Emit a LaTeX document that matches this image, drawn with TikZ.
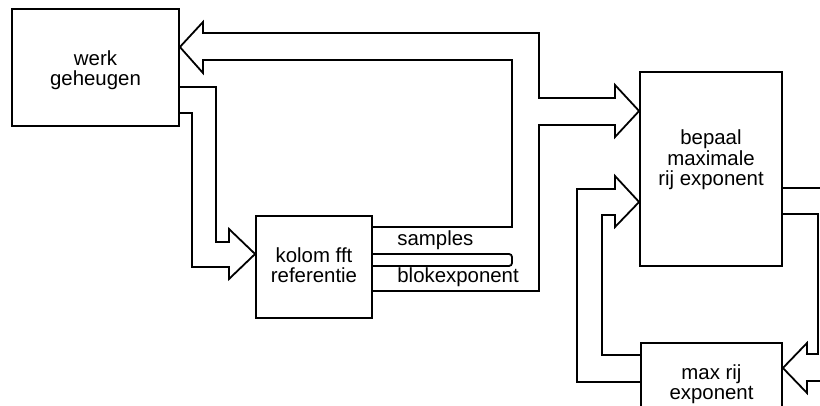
\documentclass[tikz,border=0pt]{standalone}
\usepackage{fontspec}
\setmainfont{Liberation Sans}
\usetikzlibrary{positioning}
\tikzset{
  blok/.style={draw,line width=0.9pt,inner sep=0pt},
  tekst/.style={align=center,font=\fontsize{10.2}{10.2}\selectfont},
  label/.style={inner sep=0pt,anchor=base west,font=\fontsize{10.2}{10.2}\selectfont},
  bus/.style={line width=0.9pt,line join=miter}
}

\begin{document}
\begin{tikzpicture}[x=0.5pt,y=-0.5pt]
  \useasboundingbox (0,0) rectangle (820,406);
  \clip (0,0) rectangle (820,406);
  % blokken
  \node[blok,minimum width=83.5pt,minimum height=58.5pt] (werk) at (95.5,67.5) {};
  \node[blok,minimum width=58pt,minimum height=51pt] (kolom) at (314,267) {};
  \node[blok,minimum width=71pt,minimum height=97pt] (bepaal) at (711,169) {};
  \node[blok,minimum width=70.5pt,minimum height=40pt] (maxrij) at (711.5,383) {};
  \node[tekst] (werktxt) at (95.5,70) {werk\\geheugen};
  \node[tekst] (kolomtxt) at (314,265) {kolom fft\\referentie};
  \node[tekst] (bepaaltxt) at (711,160) {bepaal\\maximale\\rij exponent};
  \node[tekst] (maxrijtxt) at (711.5,384) {max rij\\exponent};
  \node[label] (samples) at (397,246) {samples};
  \node[label] (blokexp) at (397,283) {blokexponent};
  % bussen
  \draw[bus] (kolom.east |- 0,227) -- (512,227) -- (512,60) -- (203,60)
    -- (203,73) -- (werk.east |- 0,47) -- (203,22) -- (203,33) -- (539,33)
    -- (539,98) -- (615,98) -- (615,85) -- (bepaal.west |- 0,111)
    -- (615,137) -- (615,125) -- (539,125) -- (539,291) -- (kolom.east |- 0,291);
  \draw[bus,rounded corners=1.5pt] (kolom.east |- 0,254) -- (512,254)
    -- (512,266) -- (kolom.east |- 0,266);
  \draw[bus] (werk.east |- 0,87) -- (216,87) -- (216,242) -- (229,242)
    -- (229,229) -- (kolom.west |- 0,254) -- (229,279) -- (229,267)
    -- (192,267) -- (192,113) -- (werk.east |- 0,113);
  \draw[bus] (maxrij.west |- 0,355) -- (602,355) -- (602,215) -- (615,215)
    -- (615,227) -- (bepaal.west |- 0,202) -- (615,176) -- (615,189)
    -- (577,189) -- (577,382) -- (maxrij.west |- 0,382);
  \draw[bus] (bepaal.east |- 0,188) -- (830,188);
  \draw[bus] (bepaal.east |- 0,214) -- (818,214) -- (818,354) -- (807,354)
    -- (807,343) -- (maxrij.east |- 0,368) -- (807,393) -- (807,381) -- (830,381);
\end{tikzpicture}
\end{document}
